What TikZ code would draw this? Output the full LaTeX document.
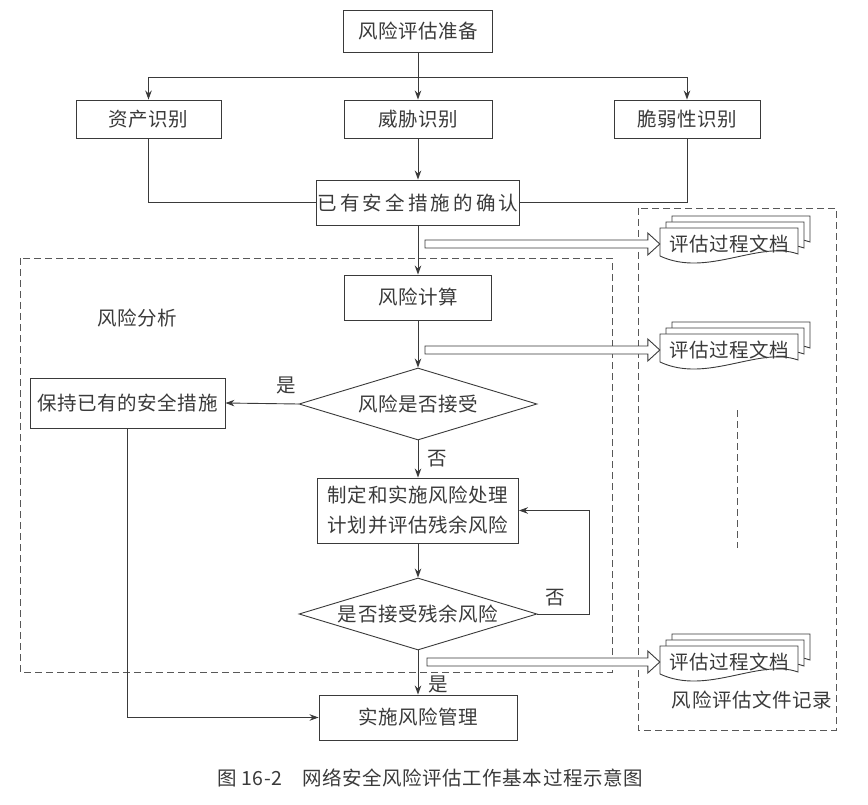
\documentclass[tikz,border=0pt]{standalone}
\usepackage{fontspec}
\setmainfont{Noto Sans CJK SC}
\newfontfamily\cjkf[LetterSpace=3]{Noto Sans CJK SC}
\newfontfamily\cjkwide[LetterSpace=16]{Noto Sans CJK SC}
\usetikzlibrary{shapes.geometric,arrows.meta,calc}
\definecolor{ink}{HTML}{3A3A3A}
\newcommand\txtsize{\fontsize{19.5pt}{30pt}\selectfont}
\tikzset{
  box/.style={draw=ink, line width=0.9pt, fill=white, text=ink, font=\cjkf\txtsize, inner sep=0pt, align=center},
  dec/.style={draw=ink, line width=0.9pt, fill=white, diamond, aspect=3.3, inner sep=0pt, minimum width=238pt, minimum height=72pt, text=ink, font=\cjkf\txtsize},
  conn/.style={draw=ink, line width=0.9pt},
  arr/.style={conn, -{Stealth[length=9pt,width=6.5pt]}},
  lbl/.style={text=ink, font=\cjkf\txtsize, inner sep=0pt},
  frame/.style={draw=ink!85, line width=0.9pt, dash pattern=on 7pt off 4pt},
  docline/.style={draw=ink, line width=0.9pt, fill=white},
  doctext/.style={lbl, minimum width=138pt, minimum height=20pt},
}
% stack of three pages with a text node named #1 centred at (#2,#3)
\newcommand\docstack[3]{%
  \begin{scope}[shift={(#2,#3)}]
    \foreach \dd in {12,6,0}{%
      \draw[docline] (-69+\dd,-16-\dd) -- (69+\dd,-16-\dd) -- (69+\dd,10-\dd)
        .. controls (30+\dd,-4-\dd) and (-22+\dd,34-\dd) .. (-69+\dd,12-\dd) -- cycle;}
  \end{scope}
  \node[doctext] (#1) at (#2,#3) {评估过程文档};}
% hollow double-line arrow from coordinate #1 to anchor #2
\newcommand\dblarrow[2]{%
  \draw[docline] ($(#1)+(0,-4)$) -- ($(#2)+(-12,-4)$) -- ($(#2)+(-12,-11)$) -- (#2)
    -- ($(#2)+(-12,11)$) -- ($(#2)+(-12,4)$) -- ($(#1)+(0,4)$) -- cycle;}
\begin{document}
\begin{tikzpicture}[x=1pt, y=-1pt]
  \useasboundingbox[fill=white] (0,0) rectangle (868,805);

  % dashed frames
  \draw[frame] (20,258) rectangle (612,672);
  \draw[frame] (638,208) rectangle (836,730);
  \draw[frame] (737,410) -- (737,548);

  % nodes
  \node[box, minimum width=149pt, minimum height=42pt] (prep) at (418,31) {风险评估准备};
  \node[box, minimum width=145pt, minimum height=38pt] (asset) at (148.5,119) {资产识别};
  \node[box, minimum width=148pt, minimum height=38pt] (threat) at (418,119) {威胁识别};
  \node[box, minimum width=146pt, minimum height=38pt] (vuln) at (687,119) {脆弱性识别};
  \node[box, font=\cjkwide\txtsize, minimum width=203pt, minimum height=45pt] (confirm) at (418,202.5) {已有安全措施的确认};
  \node[box, minimum width=147pt, minimum height=45pt] (calc) at (418,297.5) {风险计算};
  \node[dec] (dec1) at (418,404) {风险是否接受};
  \node[box, minimum width=195pt, minimum height=50pt] (keep) at (127.5,403) {保持已有的安全措施};
  \node[box, minimum width=201pt, minimum height=65pt] (plan) at (418,510.5) {制定和实施风险处理\\计划并评估残余风险};
  \node[dec] (dec2) at (418,614) {是否接受残余风险};
  \node[box, minimum width=198pt, minimum height=45pt] (impl) at (418,717.5) {实施风险管理};

  % connectors
  \coordinate (split) at (418,77);
  \draw[arr] (prep.south) -- (threat.north);
  \draw[arr] (split) -| (asset.north);
  \draw[arr] (split) -| (vuln.north);
  \draw[conn] (asset.south) |- (confirm.west);
  \draw[conn] (vuln.south) |- (confirm.east);
  \draw[arr] (threat.south) -- (confirm.north);
  \draw[arr] (confirm.south) -- (calc.north);
  \draw[arr] (calc.south) -- (dec1.north);
  \draw[arr] (dec1.west) -- (keep.east);
  \draw[arr] (dec1.south) -- (plan.north);
  \draw[arr] (plan.south) -- (dec2.north);
  \draw[arr] (dec2.east) -- ++(52,0) |- (plan.east);
  \draw[arr] (dec2.south) -- (impl.north);
  \draw[arr] (keep.south) |- (impl.west);

  % labels
  \node[lbl] (yes1) at (286,385) {是};
  \node[lbl] (no1) at (437,459) {否};
  \node[lbl] (no2) at (555,598) {否};
  \node[lbl] (yes2) at (438,684) {是};
  \node[lbl] (analysis) at (137,318) {风险分析};
  \node[lbl] (records) at (752,700) {风险评估文件记录};

  % documents
  \docstack{doc1}{729}{244}
  \docstack{doc2}{729}{350}
  \docstack{doc3}{729}{662}
  \coordinate (s1) at (425,244);
  \coordinate (s2) at (425,350);
  \coordinate (s3) at (427,662);
  \dblarrow{s1}{doc1.west}
  \dblarrow{s2}{doc2.west}
  \dblarrow{s3}{doc3.west}

  % caption
  \node[lbl] (cap) at (430,778) {图 16-2\hspace{1em}网络安全风险评估工作基本过程示意图};
\end{tikzpicture}
\end{document}
